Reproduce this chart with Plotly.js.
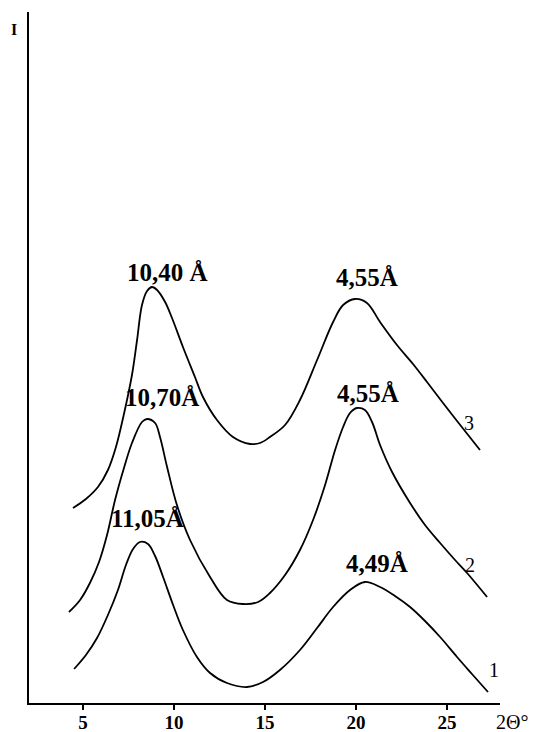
<!DOCTYPE html>
<html>
<head>
<meta charset="utf-8">
<script src="https://cdn.plot.ly/plotly-3.0.1.min.js"></script>
<style>html,body{margin:0;padding:0;background:#fff;}#chart{width:537px;height:732px;}</style>
</head>
<body>
<div id="chart"></div>
<script>
// 2Θ (degrees) and intensity (arbitrary units) for the three curves
const x1 = [4.51,5.16,5.77,6.37,6.92,7.36,7.75,8.13,8.57,8.96,9.40,9.95,10.49,11.26,11.98,12.91,14.01,14.89,15.82,16.92,17.86,18.74,19.67,20.49,21.32,22.14,22.97,23.79,24.62,25.55,26.37,27.25];
const y1 = [34,48,65,88,113,138,154,161,159,147,126,98,73,46,30,20,16,21,33,53,75,96,113,121,116,107,96,82,66,46,29,11];

const x2 = [4.23,4.84,5.38,5.88,6.32,6.76,7.25,7.69,8.24,8.52,8.96,9.23,9.62,10.16,10.88,11.98,12.91,13.79,14.62,15.27,16.10,16.92,17.64,18.30,18.85,19.29,19.67,20.05,20.49,20.88,21.32,21.98,22.97,23.79,24.62,25.44,26.10,27.20];
const y2 = [91,103,120,141,168,203,235,260,281,284,280,266,236,198,163,126,103,99,101,110,128,153,183,218,253,276,290,295,293,281,258,231,200,178,160,143,130,106];

const x3 = [4.45,5.16,5.82,6.37,6.81,7.20,7.69,7.97,8.24,8.52,8.79,9.07,9.51,9.89,10.49,11.15,11.59,12.36,13.24,14.18,14.73,15.27,16.10,16.92,17.86,18.74,19.29,19.95,20.60,21.32,22.25,23.13,23.90,24.78,25.55,26.81];
const y3 = [195,204,216,233,256,285,328,363,398,412,416,413,401,385,356,326,306,283,266,259,260,266,278,303,343,381,398,404,400,381,358,339,321,300,282,253];

const xTicks = [5,10,15,20,25];
const peakLabels = ["10,40 Å","4,55Å","10,70Å","4,55Å","11,05Å","4,49Å"];
const peakX = [9.62,20.60,9.34,20.66,8.52,21.15];
const peakY = [431,426,306,310,185,140];
const curveNames = ["3","2","1"];
const curveNameX = [26.21,26.26,27.58];
const curveNameY = [280,138,33];

const serif = 'Liberation Serif, Times New Roman, serif';
const lineStyle = {color:'#000', width:1.8, shape:'spline', smoothing:1};
const traces = [
  {x:x1, y:y1, mode:'lines', line:lineStyle, hoverinfo:'skip'},
  {x:x2, y:y2, mode:'lines', line:lineStyle, hoverinfo:'skip'},
  {x:x3, y:y3, mode:'lines', line:lineStyle, hoverinfo:'skip'}
];

const annotations = [];
for (let i=0;i<peakLabels.length;i++){
  annotations.push({x:peakX[i], y:peakY[i], xref:'x', yref:'y', text:peakLabels[i], showarrow:false,
    font:{family:serif, size:25, color:'#000', weight:'bold'},
    xanchor:'center', yanchor:'middle'});
}
for (let i=0;i<curveNames.length;i++){
  annotations.push({x:curveNameX[i], y:curveNameY[i], xref:'x', yref:'y', text:curveNames[i], showarrow:false,
    font:{family:serif, size:20, color:'#000'},
    xanchor:'center', yanchor:'middle'});
}
annotations.push({x:1.025, y:-0.0275, xref:'paper', yref:'paper', text:'2Θ°', showarrow:false,
  font:{family:serif, size:20, color:'#000'}, xanchor:'center', yanchor:'middle'});
annotations.push({x:-0.032, y:0.975, xref:'paper', yref:'paper', text:'I', showarrow:false,
  font:{family:serif, size:16, color:'#000', weight:'bold'}, xanchor:'center', yanchor:'middle'});

const layout = {
  width:537, height:732,
  margin:{l:29, r:37, t:12, b:29},
  paper_bgcolor:'#fff', plot_bgcolor:'#fff',
  showlegend:false,
  xaxis:{range:[2.033,27.91], tickvals:xTicks, ticktext:xTicks.map(String), ticks:'outside', ticklen:5, tickwidth:2, tickcolor:'#000',
    ticklabelstandoff:-4,
    showline:true, linecolor:'#000', linewidth:2, showgrid:false, zeroline:false,
    tickfont:{family:serif, size:19, color:'#000', weight:'bold'}},
  yaxis:{range:[0,691], showticklabels:false, ticks:'', showline:true, linecolor:'#000', linewidth:2, showgrid:false, zeroline:false},
  annotations:annotations
};
Plotly.newPlot('chart', traces, layout, {staticPlot:true, displayModeBar:false});
</script>
</body>
</html>
